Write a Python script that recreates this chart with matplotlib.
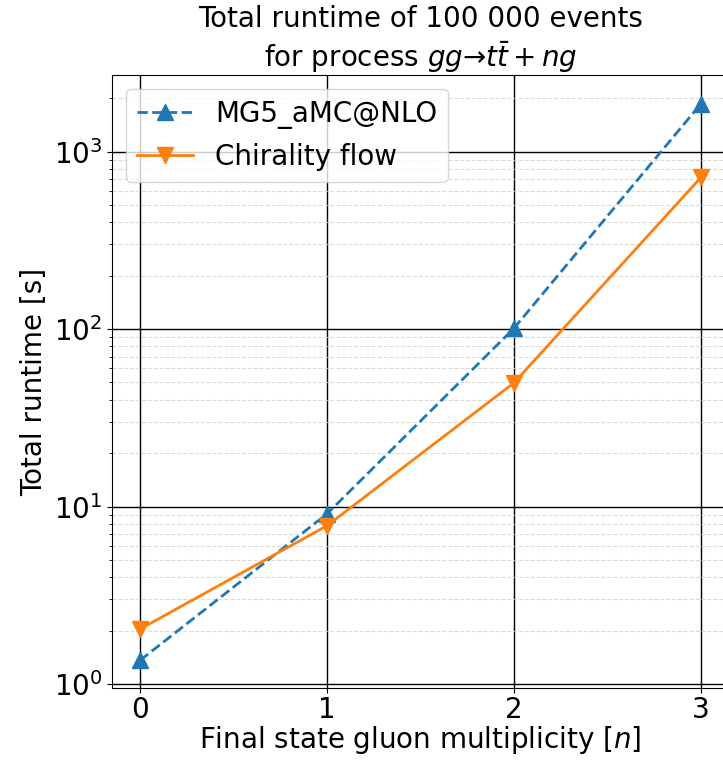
import numpy as np
import matplotlib
matplotlib.use('Agg')
import matplotlib.pyplot as plt

# 数据
n_gluons = [0, 1, 2, 3]
mg5_runtime = [1.36, 9.1, 101, 1860]
chirality_runtime = [2.04, 7.8, 49.8, 715]
x_ticks = [0, 1, 2, 3]

plt.rcParams['font.size'] = 20

fig = plt.figure(figsize=(7.23, 7.6), dpi=100)
ax = fig.add_axes([112 / 723, 72 / 760, 617 / 723, 613 / 760])

ax.plot(n_gluons, mg5_runtime, '--^', color='C0', markersize=12,
        linewidth=2, label='MG5_aMC@NLO')
ax.plot(n_gluons, chirality_runtime, '-v', color='C1', markersize=12,
        linewidth=2, label='Chirality flow')

ax.set_yscale('log')
ax.set_xlim(-0.15, 3.15)
ax.set_ylim(0.95, 2700)
ax.set_xticks(x_ticks)
ax.tick_params(labelsize=20)
ax.tick_params(axis='x', pad=2)

# 网格
ax.grid(True, which='major', color='black', linestyle='-', linewidth=1)
ax.grid(True, which='minor', axis='y', color='lightgray', linestyle='--',
        linewidth=0.8, alpha=0.8)

ax.set_xlabel('Final state gluon multiplicity [$n$]', fontsize=20, labelpad=0)
ax.set_ylabel('Total runtime [s]', fontsize=20)
ax.set_title('Total runtime of 100 000 events\nfor process $gg$→$t\\bar{t} + ng$',
             fontsize=20)
ax.legend(loc='upper left', fontsize=20)

fig.savefig('out.png', dpi=100)
